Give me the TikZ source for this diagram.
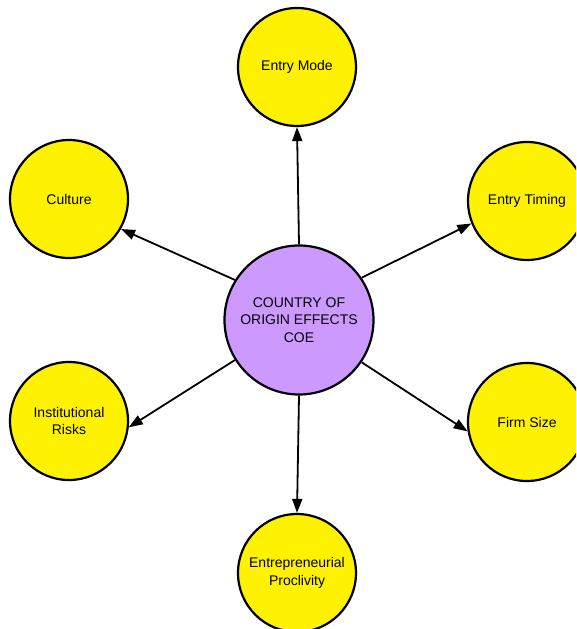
\documentclass[tikz,border=0pt]{standalone}
\usepackage{fontspec}
\setmainfont{Liberation Sans}
\usetikzlibrary{arrows.meta}
\definecolor{coepurple}{RGB}{204,153,255}
\begin{document}
\begin{tikzpicture}[x=1pt,y=-1pt,
        factor/.style = {circle,draw,line width=2.2pt,fill=yellow,minimum size=118pt,
                         inner sep=0pt,align=center,font=\fontsize{14}{17.5}\selectfont},
        arrow/.style = {line width=1.8pt,-{Triangle[length=14pt,width=10pt]}}]
                        \useasboundingbox (0,0) rectangle (576,629);
                        \clip (0,0) rectangle (576,629);

                        \node[factor,fill=coepurple,minimum size=149pt] (coe) at (299,320)
                            {COUNTRY OF\\ORIGIN EFFECTS\\COE};

                        \node[factor] (mode) at (297,67) {Entry Mode};
                        \node[factor] (culture) at (69,199) {Culture};
                        \node[factor] (timing) at (527,201) {Entry Timing};
                        \node[factor] (risks) at (69,421) {Institutional\\Risks};
                        \node[factor] (size) at (527,422) {Firm Size};
                        \node[factor] (proclivity) at (297,573) {Entrepreneurial\\Proclivity};

                        \draw[arrow] (coe.90) -- (mode.270);
                        \draw[arrow] (coe.148) -- (culture.330);
                        \draw[arrow] (coe.34) -- (timing.202);
                        \draw[arrow] (coe.212) -- (risks.354);
                        \draw[arrow] (coe.326) -- (size.189);
                        \draw[arrow] (coe.270) -- (proclivity.90);
                    \end{tikzpicture}
\end{document}
